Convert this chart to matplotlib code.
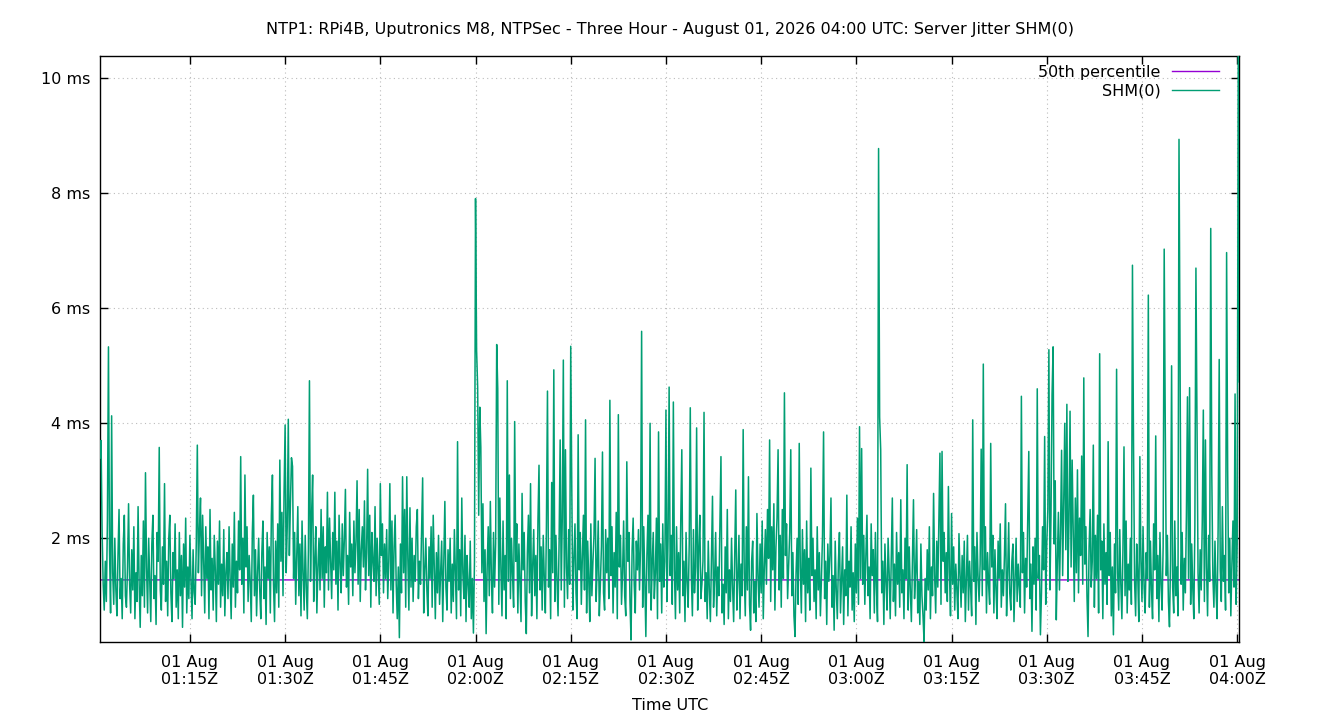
import matplotlib
matplotlib.use('Agg')
import matplotlib.pyplot as plt
import matplotlib.dates as mdates
from matplotlib.ticker import FuncFormatter
import datetime as dt

title = "NTP1: RPi4B, Uputronics M8, NTPSec - Three Hour - August 01, 2026 04:00 UTC: Server Jitter SHM(0)"
x_label = "Time UTC"
series_names = ["50th percentile", "SHM(0)"]

start_time = dt.datetime(2026, 8, 1, 1, 0, 50)
step_seconds = 10
p50_ms = 1.275

# server jitter in ms, one row = 5 minutes of 10 s samples
jitter_ms = [
    3.40, 3.70, 2.10, 1.20, 0.75, 1.60, 0.90, 2.30, 5.33, 1.80, 0.70, 4.13, 1.40, 0.85, 2.00, 1.10, 0.65, 1.70, 2.50, 0.95, 1.30, 0.60, 1.90, 2.40, 1.00, 0.80, 1.50, 2.60, 1.20, 0.70,
    1.80, 1.10, 2.20, 0.60, 1.40, 0.90, 2.55, 1.20, 0.45, 1.70, 1.00, 2.30, 0.80, 3.14, 1.50, 0.70, 2.00, 1.25, 0.55, 1.90, 2.40, 0.95, 1.35, 0.50, 2.10, 1.60, 3.58, 1.10, 0.75, 1.85,
    1.20, 2.95, 0.90, 1.60, 0.65, 2.00, 2.40, 1.05, 0.55, 1.75, 1.30, 2.25, 0.80, 1.45, 0.60, 2.10, 1.00, 1.70, 0.45, 1.90, 1.15, 2.35, 0.70, 1.50, 0.95, 2.05, 1.25, 0.60, 1.80, 1.05,
    0.85, 1.90, 3.62, 1.40, 2.10, 2.70, 1.00, 2.40, 1.60, 0.70, 2.20, 1.30, 1.85, 0.60, 2.50, 1.10, 1.65, 0.75, 2.05, 1.45, 0.55, 1.95, 1.20, 2.30, 0.80, 1.55, 1.00, 2.15, 0.65, 1.40,
    1.75, 0.95, 2.20, 1.30, 0.60, 1.90, 1.15, 2.45, 0.80, 1.60, 1.05, 2.30, 1.45, 3.42, 1.20, 2.00, 0.70, 3.10, 1.50, 2.20, 0.90, 1.70, 1.25, 0.55, 2.10, 2.75, 1.00, 1.80, 0.65, 1.40,
    2.00, 1.10, 0.60, 1.75, 2.30, 0.95, 1.50, 0.50, 2.10, 1.30, 1.85, 0.70, 2.40, 3.10, 1.20, 0.55, 1.95, 1.05, 2.25, 0.80, 3.36, 1.60, 2.45, 1.00, 2.80, 3.97, 1.40, 2.20, 4.07, 1.70,
    2.60, 3.40, 3.25, 1.30, 2.10, 0.85, 1.70, 2.55, 1.00, 1.90, 0.65, 2.30, 1.40, 0.75, 2.05, 1.15, 0.60, 1.80, 4.74, 1.25, 2.40, 3.10, 0.90, 1.60, 2.20, 0.70, 1.50, 2.00, 1.10, 2.50,
    1.30, 2.20, 0.80, 1.85, 1.40, 2.80, 1.10, 2.35, 1.60, 0.95, 2.10, 1.45, 2.80, 1.20, 1.95, 0.75, 2.40, 1.55, 1.05, 2.25, 1.35, 2.00, 2.85, 1.15, 1.70, 0.85, 2.45, 1.50, 1.90, 1.00,
    2.30, 1.40, 1.95, 3.00, 1.20, 2.50, 0.90, 1.80, 2.20, 1.50, 2.65, 1.10, 1.75, 3.20, 1.35, 2.40, 0.80, 2.10, 1.60, 1.25, 2.55, 1.00, 2.00, 1.45, 0.85, 2.95, 1.70, 2.25, 1.05, 1.90,
    1.30, 2.15, 0.95, 1.60, 2.95, 1.10, 2.30, 0.70, 1.85, 2.40, 1.20, 0.60, 1.50, 0.27, 1.90, 1.05, 3.07, 1.40, 2.50, 0.80, 3.07, 1.65, 0.75, 2.53, 1.15, 2.00, 0.90, 1.70, 1.25, 2.20,
    2.50, 0.95, 1.60, 1.20, 2.10, 3.05, 0.70, 1.45, 2.00, 1.10, 0.65, 1.85, 1.30, 2.20, 0.80, 2.40, 1.50, 0.60, 1.75, 1.05, 2.05, 0.85, 1.40, 1.95, 0.55, 1.60, 2.64, 1.15, 0.75, 1.80,
    1.25, 2.00, 0.70, 1.55, 0.90, 2.15, 1.35, 0.60, 3.68, 1.10, 1.80, 0.65, 2.70, 1.40, 0.95, 2.05, 0.55, 1.70, 1.20, 0.80, 1.95, 0.60, 1.30, 0.35, 1.60, 7.91, 5.27, 4.63, 2.40, 4.28,
    3.58, 1.40, 2.60, 0.90, 1.80, 0.34, 1.50, 2.20, 1.00, 2.64, 1.30, 0.70, 2.10, 1.15, 1.90, 5.37, 4.60, 0.85, 2.70, 1.45, 0.65, 2.30, 1.10, 1.70, 0.60, 4.74, 1.25, 3.10, 0.95, 2.00,
    1.35, 0.80, 4.03, 1.60, 2.25, 0.70, 1.90, 1.20, 0.55, 2.78, 1.45, 2.10, 0.90, 0.34, 1.75, 2.40, 1.05, 2.95, 0.65, 1.50, 2.15, 1.00, 1.70, 0.60, 2.30, 3.27, 1.10, 1.85, 0.75, 2.05,
    1.30, 0.70, 2.20, 4.56, 1.15, 1.80, 0.60, 2.97, 1.40, 4.93, 0.90, 2.05, 1.25, 0.65, 1.95, 3.71, 1.10, 2.35, 5.10, 0.80, 3.54, 1.50, 0.95, 2.15, 1.20, 5.34, 2.84, 0.75, 1.65, 2.25,
    1.05, 0.60, 3.80, 1.45, 2.10, 0.85, 1.70, 2.40, 1.10, 4.06, 0.70, 1.95, 1.30, 0.55, 2.25, 1.00, 1.60, 2.05, 3.39, 0.90, 1.50, 2.30, 0.65, 1.20, 1.85, 3.50, 1.05, 0.75, 2.15, 1.40,
    2.00, 0.95, 4.40, 1.35, 2.20, 0.70, 1.75, 1.15, 2.45, 0.60, 4.15, 1.50, 2.05, 0.85, 1.40, 2.30, 1.00, 0.65, 3.33, 1.60, 2.10, 0.90, 0.23, 1.80, 2.35, 1.20, 0.70, 1.95, 1.45, 2.15,
    1.10, 1.85, 5.60, 0.80, 2.20, 1.30, 0.29, 1.70, 2.40, 1.05, 4.00, 0.75, 1.55, 2.10, 0.95, 1.40, 2.35, 0.60, 3.85, 1.25, 1.90, 0.70, 2.25, 1.15, 1.60, 4.23, 0.90, 2.00, 4.63, 1.35,
    2.05, 0.85, 4.37, 1.45, 0.60, 2.20, 1.10, 1.75, 0.70, 2.30, 3.54, 1.00, 1.60, 0.55, 2.10, 1.25, 0.80, 1.90, 4.27, 1.35, 0.65, 2.15, 1.05, 1.50, 3.92, 0.75, 1.80, 2.40, 0.95, 1.20,
    1.60, 4.19, 0.90, 1.40, 0.60, 1.95, 1.10, 0.55, 1.70, 2.73, 0.80, 1.30, 2.10, 0.65, 1.50, 1.00, 2.25, 3.42, 0.70, 1.20, 0.50, 1.85, 1.05, 2.50, 0.60, 1.45, 0.90, 2.00, 1.15, 0.55,
    1.75, 2.84, 0.75, 1.30, 2.05, 0.60, 1.55, 1.00, 3.89, 1.40, 0.65, 2.20, 1.10, 3.07, 0.85, 0.40, 1.60, 1.95, 0.70, 1.25, 0.55, 2.43, 1.35, 0.80, 1.90, 1.05, 2.30, 0.60, 1.50, 2.15,
    1.20, 2.50, 1.65, 3.71, 0.90, 2.20, 1.45, 2.60, 0.75, 1.85, 2.35, 3.54, 1.10, 2.05, 0.80, 2.50, 1.30, 4.53, 1.70, 2.25, 0.95, 1.55, 2.10, 3.54, 1.00, 1.75, 0.65, 0.29, 1.40, 2.00,
    0.85, 3.65, 1.50, 0.70, 2.15, 1.20, 1.80, 0.55, 2.30, 1.05, 1.65, 0.75, 3.22, 1.35, 2.00, 0.90, 1.45, 0.60, 2.20, 1.10, 1.75, 0.65, 1.30, 2.05, 3.85, 0.95, 1.60, 0.50, 1.90, 1.25,
    1.70, 2.70, 0.80, 1.35, 0.40, 1.95, 1.10, 0.60, 1.55, 2.10, 0.70, 1.25, 1.85, 0.50, 1.45, 1.00, 2.75, 0.65, 1.60, 1.15, 2.20, 0.75, 1.40, 0.55, 1.90, 1.05, 2.35, 0.85, 3.94, 1.30,
    3.56, 1.20, 2.05, 0.85, 1.70, 2.40, 1.00, 1.50, 0.60, 2.25, 1.35, 1.80, 0.70, 2.10, 1.15, 0.55, 8.78, 4.11, 3.54, 1.05, 1.60, 0.50, 1.90, 1.25, 0.75, 2.00, 1.40, 0.60, 1.65, 2.70,
    0.90, 1.55, 0.65, 2.10, 1.20, 1.75, 0.80, 2.67, 1.05, 1.45, 0.60, 2.00, 1.30, 3.28, 0.75, 1.85, 1.10, 0.55, 1.60, 2.67, 0.95, 1.40, 2.15, 0.70, 1.25, 0.50, 1.90, 1.00, 0.65, 0.20,
    1.30, 0.75, 1.80, 1.10, 2.20, 0.60, 1.50, 1.00, 2.78, 1.35, 0.70, 1.95, 1.15, 2.30, 3.48, 0.85, 3.51, 1.60, 2.10, 1.05, 1.75, 0.90, 2.90, 1.40, 0.65, 2.43, 1.20, 1.85, 0.75, 1.55,
    1.10, 0.60, 2.08, 1.40, 0.80, 1.70, 1.05, 1.95, 0.55, 1.30, 2.05, 0.75, 1.60, 1.15, 0.65, 4.06, 1.25, 1.85, 0.50, 2.10, 1.35, 0.90, 1.55, 3.55, 1.00, 5.03, 1.45, 2.20, 0.70, 1.75,
    1.20, 0.85, 3.65, 1.50, 2.05, 0.70, 1.80, 1.10, 0.60, 1.95, 1.30, 2.25, 0.80, 1.45, 1.00, 1.70, 2.60, 0.65, 1.35, 2.27, 1.05, 0.75, 1.60, 1.90, 0.55, 1.25, 2.00, 0.90, 1.55, 1.15,
    0.80, 4.47, 1.40, 2.10, 0.70, 1.65, 1.15, 2.35, 3.51, 0.95, 1.55, 0.38, 1.85, 1.20, 2.00, 0.75, 4.60, 1.30, 1.70, 0.32, 1.05, 2.20, 1.45, 3.77, 0.85, 1.90, 2.50, 5.28, 1.10, 2.40,
    4.50, 5.33, 1.90, 3.00, 0.58, 1.60, 2.45, 1.10, 2.10, 3.53, 1.35, 2.60, 4.00, 1.80, 4.33, 1.25, 2.30, 4.21, 1.50, 3.36, 2.15, 0.90, 2.70, 1.40, 3.19, 1.05, 2.35, 1.70, 3.43, 1.20,
    4.79, 1.55, 2.20, 1.00, 0.29, 1.85, 2.50, 1.15, 1.60, 3.62, 0.80, 2.05, 1.30, 2.40, 0.70, 5.21, 1.45, 1.95, 0.60, 2.25, 1.20, 1.75, 0.85, 3.68, 1.35, 2.10, 0.65, 1.50, 0.32, 1.90,
    1.05, 4.94, 1.40, 0.75, 2.15, 1.20, 0.60, 1.80, 3.59, 1.00, 2.30, 0.70, 1.55, 1.10, 2.00, 0.85, 6.75, 3.65, 1.25, 0.65, 1.90, 1.35, 0.55, 3.42, 1.60, 0.90, 2.20, 1.15, 0.70, 1.75,
    1.30, 6.23, 0.80, 1.95, 1.10, 0.60, 2.25, 1.45, 3.78, 0.95, 1.70, 0.55, 2.10, 1.20, 0.75, 1.85, 7.03, 4.00, 1.35, 2.05, 0.90, 0.46, 1.60, 5.00, 1.15, 0.70, 2.30, 1.00, 1.50, 0.65,
    8.94, 4.93, 1.20, 2.10, 0.75, 1.65, 1.05, 2.40, 4.46, 1.30, 4.62, 0.85, 1.90, 1.15, 0.60, 2.20, 6.70, 3.97, 1.40, 0.70, 1.80, 1.10, 2.30, 4.23, 0.90, 3.71, 1.50, 0.65, 2.05, 1.25,
    7.39, 3.10, 1.35, 0.80, 1.95, 1.10, 0.60, 2.20, 5.11, 1.45, 0.90, 2.55, 1.25, 1.70, 0.75, 6.97, 3.20, 1.05, 2.00, 0.65, 1.55, 2.30, 1.15, 4.51, 0.85, 1.90, 10.39, 4.72,
]

y_ticks_ms = [2, 4, 6, 8, 10]
x_tick_times = [dt.datetime(2026, 8, 1, 1, 15) + dt.timedelta(minutes=15 * i) for i in range(12)]

times = [start_time + dt.timedelta(seconds=step_seconds * i) for i in range(len(jitter_ms))]
p50_line = [p50_ms] * len(times)

FS = 11.5
W, H = 1340, 720
fig = plt.figure(figsize=(W / 100, H / 100), dpi=100)
left, right, top, bottom = 100, 1239.3, 56, 641.7
ax = fig.add_axes([left / W, 1 - bottom / H, (right - left) / W, (bottom - top) / H])

ax.plot(times, p50_line, color='#9400d3', lw=1.0, label=series_names[0], zorder=2)
ax.plot(times, jitter_ms, color='#009e73', lw=1.1, label=series_names[1], zorder=3)

ax.set_xlim(times[0], times[-1])
ax.set_ylim(min(jitter_ms), max(jitter_ms))

ax.set_xticks(x_tick_times)
ax.xaxis.set_major_formatter(mdates.DateFormatter('%d %b\n%H:%MZ'))
ax.set_yticks(y_ticks_ms)
ax.yaxis.set_major_formatter(FuncFormatter(lambda v, p: f"{v:g} ms"))

ax.tick_params(axis='both', direction='in', length=5.8, width=1, top=True, right=True,
               labelsize=FS, colors='black')
ax.tick_params(axis='x', pad=9.5)
ax.tick_params(axis='y', pad=7)
for lab in ax.get_xticklabels():
    lab.set_horizontalalignment('center')
    lab.set_multialignment('center')
    lab.set_linespacing(1.2)

for s in ax.spines.values():
    s.set_linewidth(1)
    s.set_color('black')

ax.grid(True, color='#bcbcbc', linestyle=(0, (1, 3)), lw=0.8)
ax.set_axisbelow(True)

ax.set_title(title, fontsize=FS, pad=16)
fig.text((left + right) / 2 / W, 1 - 706 / H, x_label, ha='center', va='center', fontsize=FS)

leg = ax.legend(loc='upper right', bbox_to_anchor=((1219 - left) / (right - left), (bottom - 65) / (bottom - top)),
                markerfirst=False, frameon=False, handlelength=2.95, handletextpad=0.7,
                labelspacing=0.2, borderpad=0, borderaxespad=0, fontsize=FS)
for ln in leg.get_lines():
    ln.set_linewidth(1.0)

fig.savefig('out.png', dpi=100)
